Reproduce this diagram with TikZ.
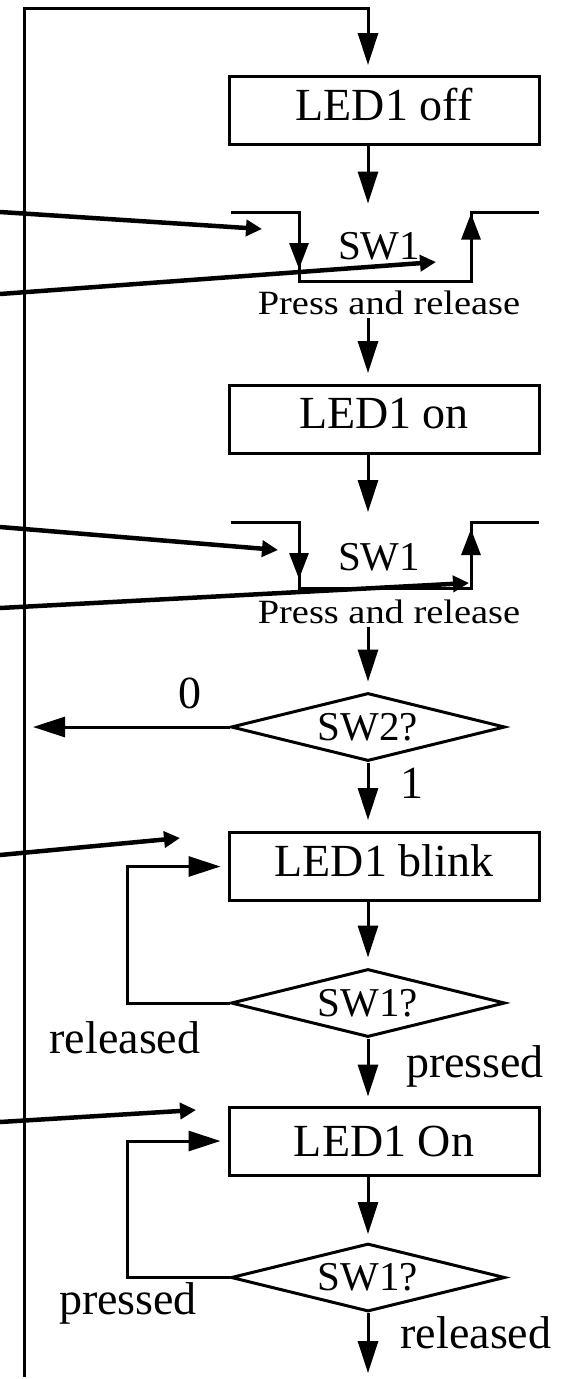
\documentclass[tikz,border=0pt]{standalone}
\usepackage{fontspec}
\setmainfont{Liberation Serif}
\newfontfamily\prfont[FakeStretch=1.13]{Liberation Serif}
\usetikzlibrary{arrows.meta,shapes.geometric}
\begin{document}
\begin{tikzpicture}[x=1pt,y=-1pt,
  plainline/.style={line width=3pt},
  flow/.style={line width=3pt,-{Triangle[length=32pt,width=20pt]}},
  smallflow/.style={line width=3pt,-{Triangle[length=26pt,width=19pt]}},
  pointer/.style={line width=4.5pt,-{Triangle[length=16pt,width=16pt]}},
  ledbox/.style={draw,line width=3pt,minimum width=310pt,minimum height=68pt,inner sep=0pt,font=\fontsize{46}{54}\selectfont},
  decision/.style={draw,diamond,aspect=4.03,line width=3pt,minimum width=274pt,minimum height=68pt,inner sep=0pt,font=\fontsize{41}{48}\selectfont},
  lbl/.style={inner sep=0pt,font=\fontsize{46}{54}\selectfont},
  swlbl/.style={inner sep=0pt,font=\fontsize{41}{48}\selectfont},
  prlbl/.style={inner sep=0pt,font=\prfont\fontsize{34}{40}\selectfont}
]
\useasboundingbox (0,0) rectangle (567,1379);
\coordinate (axis) at (368,0);
\coordinate (l1) at (127,0);

% main nodes
\node[ledbox, text depth=12pt] (off) at (384,110.5) {LED1 off};
\node[ledbox, text depth=12pt] (on) at (384,419.5) {LED1 on};
\node[decision] (sw2) at (368,727) {SW2?};
\node[ledbox, text depth=11pt] (blink) at (384,866.5) {LED1 blink};
\node[decision] (q1) at (368,1003) {SW1?};
\node[ledbox] (on2) at (384,1141) {LED1 On};
\node[decision] (q2) at (368,1277.5) {SW1?};

% left return line
\coordinate (lb) at (24,1377);
\coordinate (lt) at (24,8);
\draw[flow, shorten >=10pt] (lb) -- (lt) -- (lt -| axis) -- (off.north -| axis);

% SW1 waveform block 1
\coordinate (a1) at (231,212.5);
\coordinate (a2) at (299,212.5);
\coordinate (a3) at (299,281);
\coordinate (a4) at (471,281);
\coordinate (a5) at (471,212.5);
\coordinate (a6) at (539,212.5);
\draw[plainline] (a1) -- (a2) -- (a3) -- (a4) -- (a5) -- (a6);
\draw[smallflow, shorten >=12pt] (a2) -- (a3);
\draw[smallflow, shorten >=1pt] (a4) -- (a5);
\node[swlbl] (s1) at (379,246) {SW1};
\node[prlbl] (p1) at (389,303) {Press and release};
\draw[flow, shorten >=9pt] (off.south -| axis) -- (a2 -| axis);
\draw[flow, shorten <=3pt, shorten >=11pt] (p1.south -| axis) -- (on.north -| axis);

% SW1 waveform block 2
\coordinate (b1) at (231,522);
\coordinate (b2) at (299,522);
\coordinate (b3) at (299,588);
\coordinate (b4) at (471,588);
\coordinate (b5) at (471,522);
\coordinate (b6) at (539,522);
\draw[plainline] (b1) -- (b2) -- (b3) -- (b4) -- (b5) -- (b6);
\draw[smallflow, shorten >=9pt] (b2) -- (b3);
\draw[smallflow, shorten >=7pt] (b4) -- (b5);
\node[swlbl] (s2) at (379,557) {SW1};
\node[prlbl] (p2) at (389,612) {Press and release};
\draw[flow, shorten >=10pt] (on.south -| axis) -- (b2 -| axis);
\draw[flow, shorten <=3pt, shorten >=10pt] (p2.south -| axis) -- (sw2.north);

% SW2 decision
\draw[flow, shorten >=9pt] (sw2.west) -- (sw2.west -| lt);
\node[lbl] (zero) at (190,693) {0};
\draw[flow, shorten >=11pt] (sw2.south) -- (blink.north -| axis);
\node[lbl] (one) at (412,783) {1};

% blink loop
\draw[flow, shorten >=10pt] (blink.south -| axis) -- (q1.north);
\draw[flow, shorten >=7pt] (q1.west) -- (q1.west -| l1) -- (l1 |- blink.west) -- (blink.west);
\node[lbl] (rel1) at (125,1038) {released};
\node[lbl] (pr1) at (475,1066) {pressed};
\draw[flow, shorten >=9pt] (q1.south) -- (on2.north -| axis);

% on loop
\draw[flow, shorten >=8pt] (on2.south -| axis) -- (q2.north);
\draw[flow, shorten >=7pt] (q2.west) -- (q2.west -| l1) -- (l1 |- on2.west) -- (on2.west);
\node[lbl] (pr2) at (128,1303) {pressed};
\node[lbl] (rel2) at (476,1333) {released};
\coordinate (fin) at (368,1373);
\draw[flow] (q2.south) -- (fin);

% incoming pointers from the left
\coordinate (d1s) at (0,212);   \coordinate (d1e) at (262,229);
\coordinate (d2s) at (0,294);   \coordinate (d2e) at (436,262);
\coordinate (d3s) at (0,527);   \coordinate (d3e) at (278,550);
\coordinate (d4s) at (0,608);   \coordinate (d4e) at (469,583);
\coordinate (d5s) at (0,855);   \coordinate (d5e) at (180,838);
\coordinate (d6s) at (0,1122);  \coordinate (d6e) at (196,1110);
\draw[pointer] (d1s) -- (d1e);
\draw[pointer] (d2s) -- (d2e);
\draw[pointer] (d3s) -- (d3e);
\draw[pointer] (d4s) -- (d4e);
\draw[pointer] (d5s) -- (d5e);
\draw[pointer] (d6s) -- (d6e);
\end{tikzpicture}
\end{document}
